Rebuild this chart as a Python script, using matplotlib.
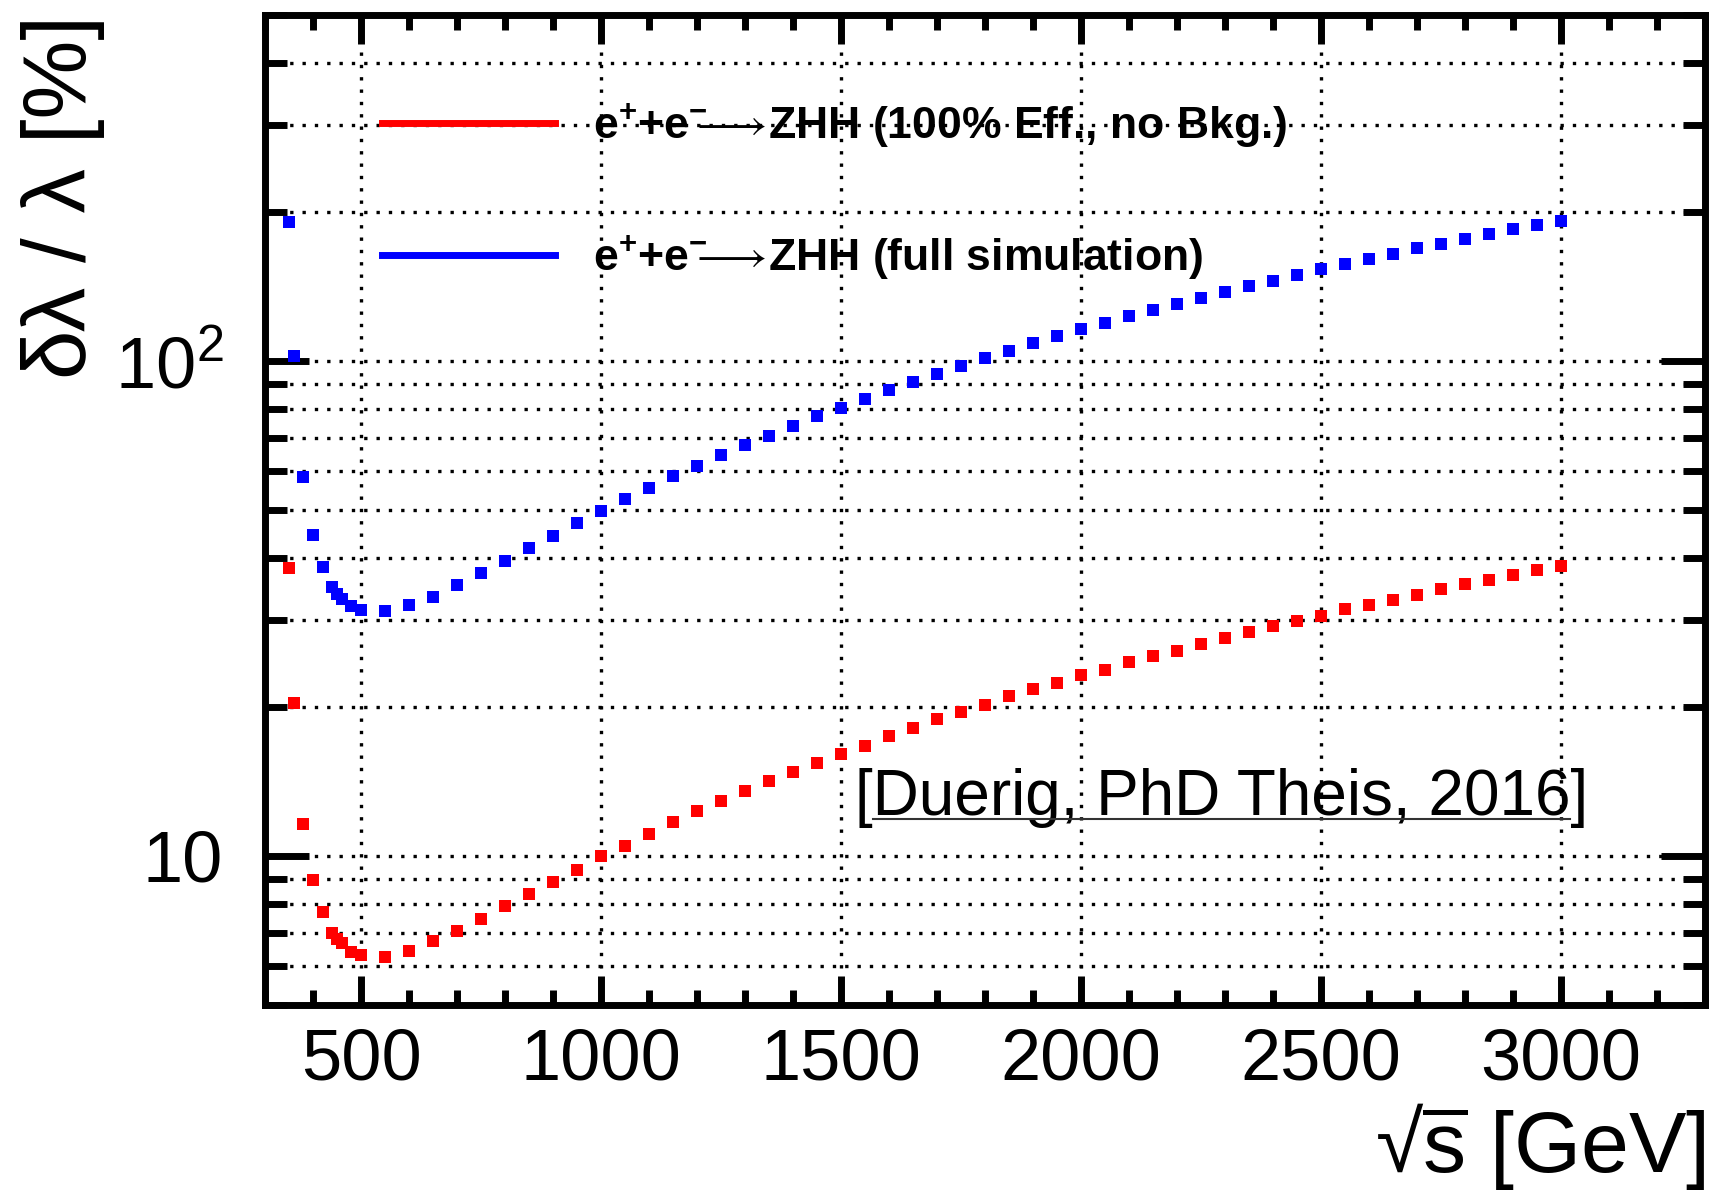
import math
import matplotlib
matplotlib.use("Agg")
import matplotlib.pyplot as plt
from matplotlib.lines import Line2D
from matplotlib.ticker import MultipleLocator, LogLocator, FuncFormatter, NullFormatter

plt.rcParams['font.family'] = ['Liberation Sans', 'DejaVu Sans']
plt.rcParams['mathtext.fontset'] = 'custom'
plt.rcParams['mathtext.rm'] = 'Liberation Sans'
plt.rcParams['mathtext.bf'] = 'Liberation Sans:bold'
plt.rcParams['mathtext.it'] = 'Liberation Sans:italic'
plt.rcParams['mathtext.default'] = 'regular'
plt.rcParams['mathtext.fallback'] = 'stixsans'

# sqrt(s) in GeV
energies = [350, 360, 380, 400, 420, 440, 450, 460, 480, 500,
            550, 600, 650, 700, 750, 800, 850, 900, 950, 1000,
            1050, 1100, 1150, 1200, 1250, 1300, 1350, 1400, 1450, 1500,
            1550, 1600, 1650, 1700, 1750, 1800, 1850, 1900, 1950, 2000,
            2050, 2100, 2150, 2200, 2250, 2300, 2350, 2400, 2450, 2500,
            2550, 2600, 2650, 2700, 2750, 2800, 2850, 2900, 2950, 3000]

# relative precision on lambda [%], 100% eff. / no background
ideal = [38.1, 20.4, 11.6, 8.95, 7.69, 7.0, 6.80, 6.68, 6.41, 6.31,
         6.24, 6.43, 6.73, 7.04, 7.46, 7.92, 8.38, 8.87, 9.39, 10.0,
         10.5, 11.1, 11.7, 12.3, 12.9, 13.5, 14.2, 14.8, 15.4, 16.1,
         16.7, 17.5, 18.1, 18.9, 19.5, 20.2, 21.0, 21.7, 22.4, 23.2,
         23.8, 24.6, 25.4, 26.0, 26.8, 27.6, 28.3, 29.2, 29.9, 30.6,
         31.5, 32.2, 32.9, 33.7, 34.6, 35.4, 36.1, 36.9, 37.8, 38.6]

# relative precision on lambda [%], full simulation
fullsim = [190.6, 102.3, 58.2, 44.5, 38.4, 35.0, 33.8, 33.0, 32.0, 31.4,
           31.3, 32.1, 33.4, 35.3, 37.3, 39.5, 41.9, 44.4, 47.1, 49.7,
           52.6, 55.4, 58.5, 61.4, 64.5, 67.8, 70.7, 73.9, 77.3, 80.4,
           83.8, 87.3, 90.8, 94.3, 97.9, 101.4, 104.8, 108.5, 112.3, 115.9,
           119.3, 123.1, 126.5, 130.1, 134.0, 137.8, 141.7, 145.3, 149.4, 153.1,
           156.7, 160.6, 164.6, 168.8, 172.7, 176.5, 180.6, 184.4, 188.1, 191.9]

labels = [r"e$^{\mathbf{+}}$+e$^{\mathbf{-}}\!\!\!\longrightarrow\!$ZHH (100% Eff., no Bkg.)",
          r"e$^{\mathbf{+}}$+e$^{\mathbf{-}}\!\!\!\longrightarrow\!$ZHH (full simulation)"]
colors = ['#ff0000', '#0000ff']

fig = plt.figure(figsize=(17.13, 11.98), dpi=100)
ax = fig.add_axes([265 / 1713, 1 - 1005 / 1198, 1440 / 1713, 990 / 1198])

ax.plot(energies, ideal, 's', color=colors[0], markersize=8.3, markeredgewidth=0, zorder=3)
ax.plot(energies, fullsim, 's', color=colors[1], markersize=8.3, markeredgewidth=0, zorder=3)

ax.set_xlim(300, 3300)
ax.set_yscale('log')
ax.set_ylim(5, 500)

ax.xaxis.set_major_locator(MultipleLocator(500))
ax.xaxis.set_minor_locator(MultipleLocator(100))
ax.yaxis.set_major_locator(LogLocator(base=10))
ax.yaxis.set_minor_locator(LogLocator(base=10, subs=[2, 3, 4, 5, 6, 7, 8, 9]))


def log_label(v, pos):
    if abs(v - 10) < 1e-6:
        return '10'
    return r'$10^{%d}$' % round(math.log10(v))


ax.yaxis.set_major_formatter(FuncFormatter(log_label))
ax.yaxis.set_minor_formatter(NullFormatter())

for s in ax.spines.values():
    s.set_linewidth(5)

ax.tick_params(axis='x', which='major', direction='in', length=21, width=5,
               top=True, bottom=True, labelsize=52, pad=16)
ax.tick_params(axis='x', which='minor', direction='in', length=11, width=5,
               top=True, bottom=True)
ax.tick_params(axis='y', which='major', direction='in', length=32, width=5,
               left=True, right=True, labelsize=52, pad=30)
ax.tick_params(axis='y', which='minor', direction='in', length=16, width=5,
               left=True, right=True)

grid_style = dict(color='black', linestyle=(0, (1, 2.7)), linewidth=2.4)
ax.grid(True, axis='x', which='major', **grid_style)
ax.grid(True, axis='y', which='both', **grid_style)
ax.set_axisbelow(True)

ax.set_xlabel(r"√$\overline{s}$ [GeV]", fontsize=62, loc='right')
ax.xaxis.label.set_verticalalignment('center')
ax.xaxis.set_label_coords(1.0, -0.143)

ax.set_ylabel("δλ / λ [%]", fontsize=64, loc='top')
ax.yaxis.label.set(rotation_mode='default', ha='center', va='top')
ax.yaxis.set_label_coords(-0.140, 1.0)

handles = [Line2D([], [], color=c, linewidth=5) for c in colors]
ax.legend(handles, labels, loc='upper left', bbox_to_anchor=(0.081, 0.913),
          frameon=False, borderpad=0, borderaxespad=0, handlelength=3.9,
          handletextpad=0.85, labelspacing=1.87,
          prop={'weight': 'bold', 'size': 32})

note_x, note_y = 0.4097, 0.1919
note = ax.text(note_x, note_y, "[Duerig, PhD Theis, 2016]", transform=ax.transAxes,
               fontsize=46, va='baseline', ha='left', zorder=4)

# underline the reference (between the brackets)
fig.canvas.draw()
rend = fig.canvas.get_renderer()
bb = note.get_window_extent(rend)
br = ax.text(note_x, note_y, "[", transform=ax.transAxes, fontsize=46)
wb = br.get_window_extent(rend).width
br.remove()
base_px = ax.transAxes.transform((note_x, note_y))[1]
inv = fig.transFigure.inverted()
(x0, y0) = inv.transform((bb.x0 + wb, base_px - 4))
(x1, y1) = inv.transform((bb.x1 - wb, base_px - 4))
fig.add_artist(Line2D([x0, x1], [y0, y1], transform=fig.transFigure, color='#333333', linewidth=1.5))

fig.savefig('out.png', dpi=100)
